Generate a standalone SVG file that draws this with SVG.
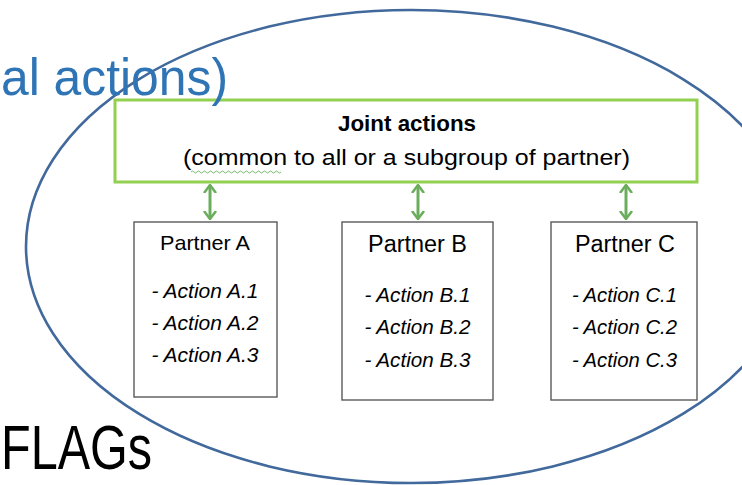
<svg xmlns="http://www.w3.org/2000/svg" width="742" height="485" viewBox="0 0 742 485">
  <style>
    .bg { fill: #ffffff; }
    .ell { fill: none; stroke: #41699c; stroke-width: 2.6; }
    .joint { fill: #ffffff; stroke: #92d050; stroke-width: 3; }
    .partner { fill: #ffffff; stroke: #5a5a5a; stroke-width: 1.4; }
    .t { font-family: "Liberation Sans", Arial, sans-serif; fill: #000000; }
    .title { font-size: 22px; font-weight: bold; text-anchor: middle; }
    .sub { font-size: 22px; text-anchor: middle; }
    .pt { text-anchor: middle; }
    .act { font-size: 21px; font-style: italic; text-anchor: middle; }
    .link { stroke: #6aae5c; stroke-width: 3; fill: none; }
    .big { font-family: "Liberation Sans", Arial, sans-serif; }
  </style>
  <defs>
    <marker id="head" viewBox="0 0 10 14" refX="9" refY="7" markerWidth="9" markerHeight="14" markerUnits="userSpaceOnUse" orient="auto-start-reverse">
      <path d="M1,1 L9,7 L1,13" fill="none" stroke="#6aae5c" stroke-width="2.8" stroke-linecap="round" stroke-linejoin="round"/>
    </marker>
  </defs>
  <rect class="bg" x="0" y="0" width="742" height="485"/>

  <ellipse class="ell" cx="411" cy="246.5" rx="385" ry="236.5"/>

  <g id="joint-actions">
    <rect class="joint" x="115" y="100" width="582" height="82"/>
    <text class="t title" x="407" y="131" textLength="138" lengthAdjust="spacingAndGlyphs">Joint actions</text>
    <text class="t sub" x="406.5" y="165" textLength="447" lengthAdjust="spacingAndGlyphs">(common to all or a subgroup of partner)</text>
    <path d="M191,172 q1.5,-2 3,0 t3,0 t3,0 t3,0 t3,0 t3,0 t3,0 t3,0 t3,0 t3,0 t3,0 t3,0 t3,0 t3,0 t3,0 t3,0 t3,0 t3,0 t3,0 t3,0 t3,0 t3,0 t3,0 t3,0 t3,0 t3,0 t3,0 t3,0 t3,0 t3,0" fill="none" stroke="#6aae5c" stroke-width="0.9"/>
  </g>

  <g id="connectors">
    <line class="link" x1="210" y1="185" x2="210" y2="219" marker-start="url(#head)" marker-end="url(#head)"/>
    <line class="link" x1="418" y1="185" x2="418" y2="219" marker-start="url(#head)" marker-end="url(#head)"/>
    <line class="link" x1="626" y1="185" x2="626" y2="219" marker-start="url(#head)" marker-end="url(#head)"/>
  </g>

  <g id="partner-a">
    <rect class="partner" x="134" y="222" width="143" height="175"/>
    <text class="t pt" x="205" y="250" font-size="21" textLength="90" lengthAdjust="spacingAndGlyphs">Partner A</text>
    <text class="t act" x="205" y="298" textLength="107" lengthAdjust="spacingAndGlyphs">- Action A.1</text>
    <text class="t act" x="205" y="330" textLength="107" lengthAdjust="spacingAndGlyphs">- Action A.2</text>
    <text class="t act" x="205" y="362" textLength="107" lengthAdjust="spacingAndGlyphs">- Action A.3</text>
  </g>

  <g id="partner-b">
    <rect class="partner" x="342" y="222" width="151" height="178"/>
    <text class="t pt" x="417.5" y="252" font-size="23" textLength="99" lengthAdjust="spacingAndGlyphs">Partner B</text>
    <text class="t act" x="417.5" y="302" textLength="106" lengthAdjust="spacingAndGlyphs">- Action B.1</text>
    <text class="t act" x="417.5" y="334" textLength="106" lengthAdjust="spacingAndGlyphs">- Action B.2</text>
    <text class="t act" x="417.5" y="367" textLength="106" lengthAdjust="spacingAndGlyphs">- Action B.3</text>
  </g>

  <g id="partner-c">
    <rect class="partner" x="551" y="222" width="146" height="178"/>
    <text class="t pt" x="625" y="252" font-size="23" textLength="100" lengthAdjust="spacingAndGlyphs">Partner C</text>
    <text class="t act" x="624.5" y="302" textLength="105" lengthAdjust="spacingAndGlyphs">- Action C.1</text>
    <text class="t act" x="624.5" y="334" textLength="105" lengthAdjust="spacingAndGlyphs">- Action C.2</text>
    <text class="t act" x="624.5" y="367" textLength="105" lengthAdjust="spacingAndGlyphs">- Action C.3</text>
  </g>

  <text class="big" x="1" y="95" font-size="52" fill="#2f75b5" textLength="227" lengthAdjust="spacingAndGlyphs">al actions)</text>
  <text class="big" x="1" y="469" font-size="63" fill="#000000" textLength="151" lengthAdjust="spacingAndGlyphs">FLAGs</text>
</svg>
